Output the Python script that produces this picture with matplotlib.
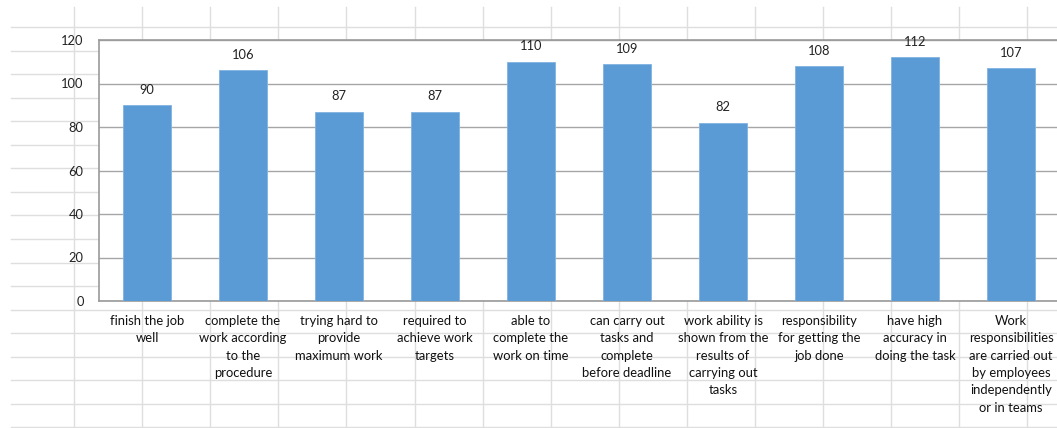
import numpy as np
import matplotlib
matplotlib.use("Agg")
import matplotlib.pyplot as plt

categories = [
    "finish the job\nwell",
    "complete the\nwork according\nto the\nprocedure",
    "trying hard to\nprovide\nmaximum work",
    "required to\nachieve work\ntargets",
    "able to\ncomplete the\nwork on time",
    "can carry out\ntasks and\ncomplete\nbefore deadline",
    "work ability is\nshown from the\nresults of\ncarrying out\ntasks",
    "responsibility\nfor getting the\njob done",
    "have high\naccuracy in\ndoing the task",
    "Work\nresponsibilities\nare carried out\nby employees\nindependently\nor in teams",
]
values = [90, 106, 87, 87, 110, 109, 82, 108, 112, 107]
yticks = [0, 20, 40, 60, 80, 100, 120]

W, H = 1057, 428
LABEL_FS = 9.4
LINE_GAP_PX = 17.4  # desired distance between label lines

plt.rcParams['font.family'] = ['Lato', 'DejaVu Sans']
fig = plt.figure(figsize=(W / 100, H / 100), dpi=100)
fig.patch.set_facecolor('white')

# find the linespacing that gives the wanted line gap
renderer = fig.canvas.get_renderer()
def block_h(ls, n):
    t = fig.text(0, 0, "\n".join(["Work"] * n), fontsize=LABEL_FS, linespacing=ls)
    h = t.get_window_extent(renderer).height
    t.remove()
    return h
g1 = (block_h(1.0, 6) - block_h(1.0, 1)) / 5
g2 = (block_h(2.0, 6) - block_h(2.0, 1)) / 5
ls = 1.0 + (LINE_GAP_PX - g1) / (g2 - g1)

# spreadsheet background grid
bg = fig.add_axes([0, 0, 1, 1])
bg.set_xlim(0, W)
bg.set_ylim(H, 0)
bg.axis('off')
grid_c = '#dedede'
for yy in np.arange(27, H + 1, 23.55):
    bg.plot([11, W], [yy, yy], color=grid_c, lw=1.0, zorder=0)
for xx in np.arange(74, W + 1, 68.1):
    bg.plot([xx, xx], [7, H], color=grid_c, lw=1.0, zorder=0)

# chart
ax = fig.add_axes([99 / W, (H - 301) / H, 960 / W, 261 / H])
ax.set_facecolor('white')
x = np.arange(len(values))
ax.bar(x, values, width=0.5, color='#5B9BD5', edgecolor='#7fb2e0', linewidth=0.6, zorder=3)
ax.set_xlim(-0.5, len(values) - 0.5)
ax.set_ylim(0, 120)
ax.set_yticks(yticks)
ax.set_yticklabels([str(t) for t in yticks], fontsize=9.3, color='#222222')
ax.yaxis.grid(True, color='#a6a6a6', lw=1.0, zorder=0)
ax.set_axisbelow(True)
ax.tick_params(axis='y', length=0, pad=11)
ax.set_xticks(x)
ax.set_xticklabels(categories, fontsize=LABEL_FS, color='#111111', linespacing=ls, va='top')
ax.tick_params(axis='x', length=0, pad=10)
for s in ['left', 'top', 'bottom']:
    ax.spines[s].set_color('#9a9a9a')
    ax.spines[s].set_linewidth(1.2)
ax.spines['right'].set_visible(False)

for xi, v in zip(x, values):
    ax.annotate(str(v), (xi, v), xytext=(0, 11), textcoords='offset points',
                ha='center', va='center', fontsize=9.3, color='#222222')

fig.savefig('out.png', dpi=100, facecolor='white')
